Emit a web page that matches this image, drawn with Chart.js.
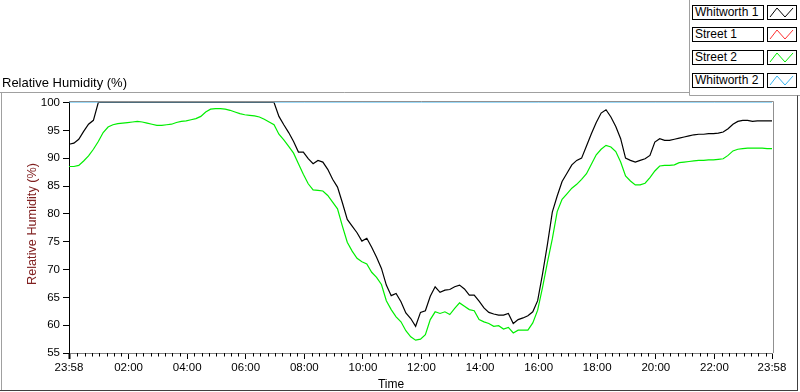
<!DOCTYPE html>
<html>
<head>
<meta charset="utf-8">
<script src="https://cdn.jsdelivr.net/npm/chart.js@4.4.1/dist/chart.umd.min.js"></script>
<style>
html,body{margin:0;padding:0;background:#fff;}
#wrap{position:relative;width:800px;height:392px;overflow:hidden;background:#fff;}
#c{position:absolute;left:0;top:0;}
.lab{position:absolute;left:692px;width:72px;height:15px;border:1px solid #000;box-sizing:border-box;
  font:12px "Liberation Sans",Arial,sans-serif;line-height:13px;padding-left:2px;white-space:nowrap;color:#000;background:#fff;}
.sw{position:absolute;left:767px;width:30px;height:15px;border:1px solid #000;box-sizing:border-box;background:#fff;}
.sw svg{position:absolute;left:0;top:0;}
</style>
</head>
<body>
<div id="wrap">
<canvas id="c" width="800" height="392"></canvas>
<div id="legend"></div>
</div>
<script>
// ---------- data ----------
const chartTitle = 'Relative Humidity (%)';
const yAxisTitle = 'Relative Humidity (%)';
const xAxisTitle = 'Time';

const seriesNames = ['Whitworth 1', 'Street 1', 'Street 2', 'Whitworth 2'];

// sample times: minutes relative to midnight (23:58 of previous day = -2), every 10 minutes
const startMinute = -2;
const stepMinutes = 10;

const whitworth1 = [
  92.5, 92.7, 93.4, 94.8, 96.1, 96.8, 100,
  100, 100, 100, 100, 100, 100, 100, 100, 100, 100, 100, 100,
  100, 100, 100, 100, 100, 100, 100, 100, 100, 100, 100, 100,
  100, 100, 100, 100, 100, 100, 100, 100, 100, 100, 100, 100,
  97.5, 96.0, 94.6, 93.0, 91.1, 91.1, 89.9, 89.0, 89.6, 89.3,
  88.0, 86.2, 84.8, 82.0, 79.0, 77.8, 76.6, 75.1, 75.6, 74.0,
  72.2, 70.2, 67.2, 65.3, 65.7, 64.2, 62.2, 61.2, 59.8, 62.3,
  62.6, 65.2, 66.9, 65.9, 66.3, 66.4, 66.9, 67.2, 66.5, 65.4,
  65.4, 64.3, 63.1, 62.3, 62.0, 61.8, 61.8, 62.1, 60.3, 61.0,
  61.3, 61.7, 62.4, 64.4, 69.2, 74.5, 80.3, 83.2, 85.8, 87.3,
  88.8, 89.6, 90.0, 92.2, 94.4, 96.4, 98.1, 98.7, 97.4, 95.7,
  93.5, 90.0, 89.6, 89.3, 89.6, 89.9, 90.5, 92.9, 93.5, 93.2,
  93.2, 93.4, 93.6, 93.8, 94.0, 94.2, 94.3, 94.3, 94.4, 94.4,
  94.5, 94.7, 95.3, 96.1, 96.6, 96.8, 96.8, 96.6, 96.7, 96.7, 96.7, 96.7
];

const street1 = []; // no visible data

const street2 = [
  88.5, 88.5, 88.7, 89.5, 90.4, 91.6, 93.0, 94.6, 95.6, 96.0,
  96.2, 96.3, 96.4, 96.5, 96.6, 96.5, 96.3, 96.1, 95.9, 95.9,
  96.0, 96.1, 96.4, 96.6, 96.7, 96.9, 97.1, 97.5, 98.3, 98.8,
  98.9, 98.9, 98.8, 98.6, 98.3, 98.0, 97.8, 97.7, 97.6, 97.4,
  97.0, 96.5, 96.0, 94.3, 93.3, 92.1, 90.9, 89.0, 87.1, 85.4,
  84.3, 84.2, 84.1, 83.3, 82.1, 80.9, 77.8, 74.9, 73.3, 72.0,
  71.4, 71.0, 69.5, 68.6, 67.3, 64.4, 62.8, 61.5, 60.6, 59.0,
  57.9, 57.3, 57.5, 58.3, 61.0, 62.4, 62.1, 62.4, 61.9, 63.0,
  64.0, 63.4, 62.8, 62.6, 61.0, 60.6, 60.3, 59.8, 59.9, 59.3,
  59.6, 58.6, 59.1, 59.1, 59.1, 60.4, 62.7, 66.8, 71.3, 75.5,
  80.4, 82.6, 83.6, 84.6, 85.3, 86.2, 87.2, 88.9, 90.6, 91.6,
  92.3, 92.0, 91.2, 89.3, 86.8, 85.9, 85.2, 85.2, 85.5, 86.5,
  87.7, 88.6, 88.7, 88.7, 88.8, 89.2, 89.3, 89.4, 89.5, 89.6,
  89.6, 89.7, 89.7, 89.8, 89.9, 90.5, 91.3, 91.6, 91.7, 91.8,
  91.8, 91.8, 91.8, 91.7, 91.7
];

// Whitworth 2 sits on the 100 % line the whole day
const whitworth2Minutes = [-2, 120, 240, 360, 480, 600, 720, 840, 960, 1080, 1200, 1320, 1438];
const whitworth2 = [100, 100, 100, 100, 100, 100, 100, 100, 100, 100, 100, 100, 100];

const xTickMinutes = [-2, 120, 240, 360, 480, 600, 720, 840, 960, 1080, 1200, 1320, 1438];
const xTickLabels = ['23:58', '02:00', '04:00', '06:00', '08:00', '10:00', '12:00',
                     '14:00', '16:00', '18:00', '20:00', '22:00', '23:58'];
const yMin = 55, yMax = 100, yStep = 5;
const xMin = -2, xMax = 1438;
const minorStepMinutes = 15;

// ---------- styles ----------
const seriesColors = ['#000000', '#ff3030', '#00ee00', '#38b4f0'];
const FONT = '"Liberation Sans", Arial, sans-serif';

function toPoints(values, times) {
  return values.map((v, i) => ({ x: times ? times[i] : startMinute + i * stepMinutes, y: v }));
}

const datasets = [
  { label: seriesNames[0], data: toPoints(whitworth1) },
  { label: seriesNames[1], data: toPoints(street1) },
  { label: seriesNames[2], data: toPoints(street2) },
  { label: seriesNames[3], data: toPoints(whitworth2, whitworth2Minutes) }
].map((d, i) => Object.assign(d, {
  borderColor: seriesColors[i], backgroundColor: seriesColors[i],
  borderWidth: i === 3 ? 1 : 1.2, pointRadius: 0, tension: 0, fill: false
}));

const framePlugin = {
  id: 'frame',
  beforeDraw(chart) {
    const ctx = chart.ctx;
    ctx.save();
    ctx.fillStyle = '#fff';
    ctx.fillRect(0, 0, chart.width, chart.height);
    ctx.restore();
  },
  afterDraw(chart) {
    const ctx = chart.ctx, a = chart.chartArea, xs = chart.scales.x;
    const line = (x1, y1, x2, y2) => { ctx.beginPath(); ctx.moveTo(x1, y1); ctx.lineTo(x2, y2); ctx.stroke(); };
    ctx.save();
    ctx.lineWidth = 1;
    // outer frame
    ctx.strokeStyle = '#a0a0a0';
    line(0, 92.5, 689.5, 92.5);
    line(689.5, 0, 689.5, 95.5);
    line(689.5, 95.5, 800, 95.5);
    line(1.5, 92.5, 1.5, 390);
    ctx.strokeStyle = '#404040';
    line(0, 390.5, 798, 390.5);
    line(797.5, 95.5, 797.5, 391);
    // plot frame (top / right)
    ctx.strokeStyle = '#909090';
    line(a.left, 101.5, a.right + 1.5, 101.5);
    line(a.right + 1.5, 101.5, a.right + 1.5, a.bottom);
    // minor ticks on x axis
    ctx.strokeStyle = '#000';
    for (let m = 0; m <= xMax; m += minorStepMinutes) {
      if (m % 120 === 0) continue;
      const px = Math.round(xs.getPixelForValue(m)) + 0.5;
      line(px, a.bottom, px, a.bottom + 3.5);
    }
    // texts
    ctx.fillStyle = '#000';
    ctx.font = '13px ' + FONT;
    ctx.textAlign = 'left';
    ctx.textBaseline = 'alphabetic';
    ctx.fillText(chartTitle, 2, 87);
    ctx.font = '12px ' + FONT;
    ctx.textAlign = 'center';
    ctx.fillText(xAxisTitle, 391, 388);
    ctx.save();
    ctx.translate(36, 224);
    ctx.rotate(-Math.PI / 2);
    ctx.font = '12.7px ' + FONT;
    ctx.fillStyle = '#802020';
    ctx.textAlign = 'center';
    ctx.textBaseline = 'alphabetic';
    ctx.fillText(yAxisTitle, 0, 0);
    ctx.restore();
    ctx.restore();
  }
};

new Chart(document.getElementById('c'), {
  type: 'line',
  data: { datasets },
  options: {
    responsive: false,
    animation: false,
    devicePixelRatio: 1,
    layout: { padding: { top: 102.5, right: 28, left: 0, bottom: 0 } },
    plugins: { legend: { display: false }, tooltip: { enabled: false } },
    scales: {
      x: {
        type: 'linear', min: xMin, max: xMax,
        afterBuildTicks: (s) => { s.ticks = xTickMinutes.map(v => ({ value: v })); },
        afterFit: (s) => { s.height = 39; },
        grid: { drawOnChartArea: false, drawTicks: true, tickLength: 6, color: '#000',
                tickWidth: (ctx) => (ctx.index === 0 ? 2 : 1) },
        border: { display: true, color: '#808080', width: 1 },
        ticks: {
          autoSkip: false, maxRotation: 0, minRotation: 0, padding: 2,
          color: '#000', font: { family: FONT, size: 11.5 },
          callback: (v) => { const i = xTickMinutes.indexOf(v); return i >= 0 ? xTickLabels[i] : ''; }
        }
      },
      y: {
        min: yMin, max: yMax,
        afterFit: (s) => { s.width = 69; },
        grid: { drawOnChartArea: false, drawTicks: true, tickLength: 6, color: '#000' },
        border: { display: true, color: '#000', width: 1 },
        ticks: { stepSize: yStep, padding: 3, color: '#000', font: { family: FONT, size: 11.5 } }
      }
    }
  },
  plugins: [framePlugin]
});

// ---------- legend (HTML) ----------
const legendEl = document.getElementById('legend');
seriesNames.forEach((name, i) => {
  const top = 4.7 + i * 22.7;
  const lab = document.createElement('div');
  lab.className = 'lab';
  lab.style.top = top + 'px';
  lab.textContent = name;
  legendEl.appendChild(lab);
  const sw = document.createElement('div');
  sw.className = 'sw';
  sw.style.top = top + 'px';
  sw.innerHTML = '<svg width="28" height="13" viewBox="0 0 28 13"><polyline points="2,11 9,2 17,11 25,2" fill="none" stroke="' +
    seriesColors[i] + '" stroke-width="1"/></svg>';
  legendEl.appendChild(sw);
});
</script>
</body>
</html>
